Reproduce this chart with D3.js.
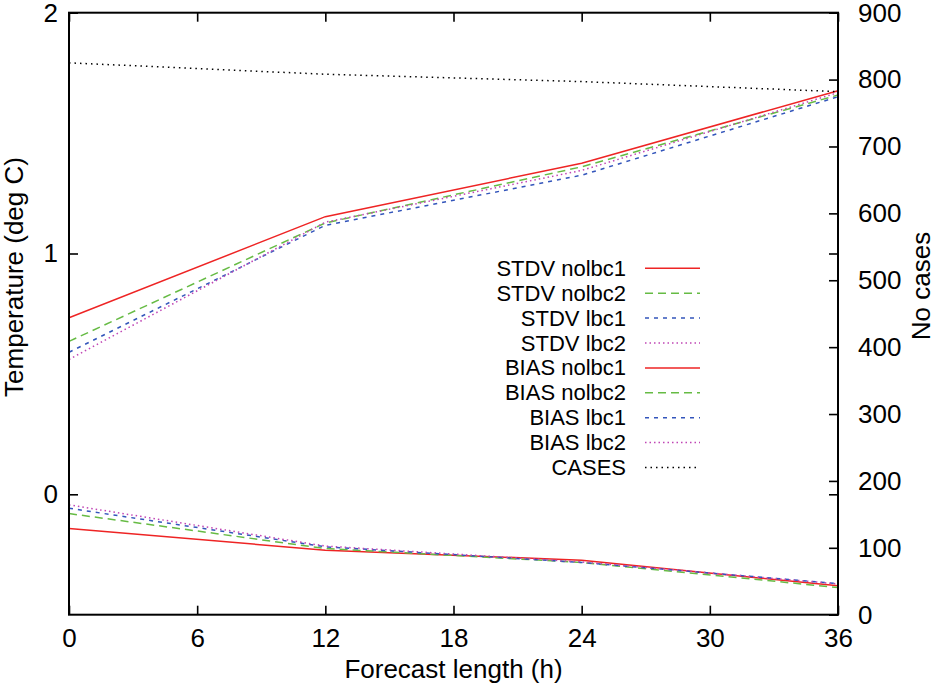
<!DOCTYPE html>
<html>
<head>
<meta charset="UTF-8">
<title>STDV / BIAS by forecast length</title>
<script src="https://d3js.org/d3.v7.min.js"></script>
<style>
  body { margin: 0; background: #fff; }
  text { font-family: "Liberation Sans", Arial, sans-serif; fill: #000; }
</style>
</head>
<body>
<div id="chart"></div>
<script>
// forecast length (h)
var hours = [0, 12, 24, 36];

// temperature (deg C), left axis
var stdvNolbc1 = [0.733, 1.153, 1.375, 1.676];
var stdvNolbc2 = [0.635, 1.127, 1.360, 1.658];
var stdvLbc1   = [0.590, 1.117, 1.325, 1.651];
var stdvLbc2   = [0.560, 1.130, 1.345, 1.668];
var biasNolbc1 = [-0.142, -0.232, -0.274, -0.380];
var biasNolbc2 = [-0.080, -0.225, -0.283, -0.387];
var biasLbc1   = [-0.058, -0.218, -0.283, -0.371];
var biasLbc2   = [-0.044, -0.215, -0.281, -0.372];

// number of cases, right axis
var cases = [825, 808, 797, 782];

var xTicks = [0, 6, 12, 18, 24, 30, 36];
var yTicks = [0, 1, 2];
var y2Ticks = [0, 100, 200, 300, 400, 500, 600, 700, 800, 900];

var series = [
  {name: "STDV nolbc1", values: stdvNolbc1, color: "#ee2424", dash: null, axis: "left"},
  {name: "STDV nolbc2", values: stdvNolbc2, color: "#66bb44", dash: "8,5", axis: "left"},
  {name: "STDV lbc1",   values: stdvLbc1,   color: "#3355bb", dash: "4,5", axis: "left"},
  {name: "STDV lbc2",   values: stdvLbc2,   color: "#c045b5", dash: "1.5,3", axis: "left"},
  {name: "BIAS nolbc1", values: biasNolbc1, color: "#ee2424", dash: null, axis: "left"},
  {name: "BIAS nolbc2", values: biasNolbc2, color: "#66bb44", dash: "8,5", axis: "left"},
  {name: "BIAS lbc1",   values: biasLbc1,   color: "#3355bb", dash: "4,5", axis: "left"},
  {name: "BIAS lbc2",   values: biasLbc2,   color: "#c045b5", dash: "1.5,3", axis: "left"},
  {name: "CASES",       values: cases,      color: "#000000", dash: "1.5,4", axis: "right"}
];

var margin = {top: 12.7, right: 98, bottom: 71.3, left: 69},
    width = 936 - margin.left - margin.right,
    height = 686 - margin.top - margin.bottom;

var svg = d3.select("#chart")
  .append("svg")
    .attr("width", 936)
    .attr("height", 686)
  .append("g")
    .attr("transform", "translate(" + margin.left + "," + margin.top + ")");

var x = d3.scaleLinear().domain([0, 36]).range([0, width]);
var y = d3.scaleLinear().domain([-0.5, 2]).range([height, 0]);
var y2 = d3.scaleLinear().domain([0, 900]).range([height, 0]);

function styleAxis(g) {
  g.select(".domain").remove();
  g.selectAll(".tick line").attr("stroke", "#000").attr("stroke-width", 1.6);
  g.selectAll(".tick text").style("font-size", "26px").attr("fill", "#000");
}

// bottom and top (mirrored) x ticks
svg.append("g")
  .attr("transform", "translate(0," + height + ")")
  .call(d3.axisBottom(x).tickValues(xTicks).tickSize(-9).tickPadding(14))
  .call(styleAxis);
svg.append("g")
  .call(d3.axisTop(x).tickValues(xTicks).tickSize(-9).tickFormat(""))
  .call(styleAxis);

// left temperature axis and its mirror on the right
svg.append("g")
  .call(d3.axisLeft(y).tickValues(yTicks).tickSize(-9).tickPadding(11).tickFormat(d3.format("d")))
  .call(styleAxis);
svg.append("g")
  .attr("transform", "translate(" + width + ",0)")
  .call(d3.axisRight(y).tickValues(yTicks).tickSize(-9).tickFormat(""))
  .call(styleAxis);

// right cases axis
svg.append("g")
  .attr("transform", "translate(" + width + ",0)")
  .call(d3.axisRight(y2).tickValues(y2Ticks).tickSize(-9).tickPadding(20))
  .call(styleAxis);

// data lines
series.forEach(function(s) {
  var yy = s.axis == "left" ? y : y2;
  var line = d3.line()
    .x(function(d, i) { return x(hours[i]); })
    .y(function(d) { return yy(d); });
  svg.append("path")
    .datum(s.values)
    .attr("fill", "none")
    .attr("stroke", s.color)
    .attr("stroke-width", 1.5)
    .attr("stroke-dasharray", s.dash)
    .attr("d", line);
});

// plot border
svg.append("rect")
  .attr("width", width)
  .attr("height", height)
  .attr("fill", "none")
  .attr("stroke", "#000")
  .attr("stroke-width", 2);

// axis titles
svg.append("text")
  .attr("transform", "translate(" + (14 - margin.left) + "," + (277 - margin.top) + ")rotate(-90)")
  .attr("text-anchor", "middle")
  .attr("dominant-baseline", "central")
  .style("font-size", "26px")
  .text("Temperature (deg C)");

svg.append("text")
  .attr("transform", "translate(" + (921 - margin.left) + "," + (286 - margin.top) + ")rotate(-90)")
  .attr("text-anchor", "middle")
  .attr("dominant-baseline", "central")
  .style("font-size", "26px")
  .text("No cases");

svg.append("text")
  .attr("x", width / 2)
  .attr("y", 678 - margin.top)
  .attr("text-anchor", "middle")
  .style("font-size", "26px")
  .text("Forecast length (h)");

// legend
var legend = svg.append("g")
  .attr("transform", "translate(" + (626 - margin.left) + "," + (268.3 - margin.top) + ")");

var rows = legend.selectAll("g")
  .data(series)
  .enter()
  .append("g")
    .attr("transform", function(d, i) { return "translate(0," + (i * 24.9) + ")"; });

rows.append("text")
  .attr("text-anchor", "end")
  .attr("dominant-baseline", "central")
  .style("font-size", "22px")
  .text(function(d) { return d.name; });

rows.append("line")
  .attr("x1", 19)
  .attr("x2", 74)
  .attr("stroke", function(d) { return d.color; })
  .attr("stroke-width", 1.5)
  .attr("stroke-dasharray", function(d) { return d.dash; });
</script>
</body>
</html>
